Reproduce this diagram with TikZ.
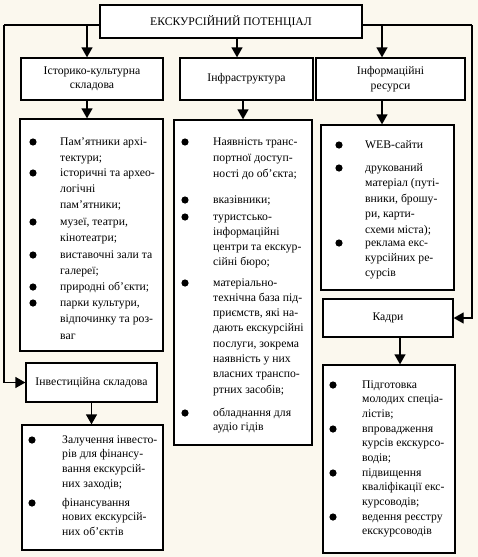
\documentclass[tikz,border=0pt]{standalone}
\usepackage{fontspec}
\setmainfont{Liberation Serif}
\usetikzlibrary{arrows.meta,calc}
\definecolor{bg}{RGB}{251,248,238}
\tikzset{
  box/.style={draw, fill=white, line width=1.3pt, inner sep=0pt, align=center,
    font=\fontsize{11.7}{14.5}\selectfont},
  lbox/.style={draw, fill=white, line width=1.3pt, inner sep=0pt},
  arr/.style={line width=1.3pt, -{Triangle[length=10pt,width=11pt]}},
  ln/.style={line width=1.3pt},
  bul/.style={circle, fill, inner sep=0pt, minimum size=7.2pt},
  itx/.style={anchor=north west, inner sep=0pt, align=left,
    font=\fontsize{11.7}{#1}\selectfont},
}
\newcommand\itm[6]{%
  \node[bul] (#1b) at (#2,#4) {};
  \node[itx=#5] (#1) at ({#3},{#4+2.8-0.7*#5}) {\strut #6};}
\begin{document}
\begin{tikzpicture}[x=1pt,y=-1pt]
\fill[bg] (0,0) rectangle (478,557);
\useasboundingbox (0,0) rectangle (478,557);

% header boxes
\node[box, minimum width=262pt, minimum height=33pt] (top) at (231,21.5) {ЕКСКУРСІЙНИЙ ПОТЕНЦІАЛ};
\node[box, minimum width=142pt, minimum height=42pt] (hist) at (92,79) {Історико-культурна\\складова};
\node[box, minimum width=133pt, minimum height=42pt] (infra) at (246.5,79) {Інфраструктура};
\node[box, minimum width=149pt, minimum height=42pt] (info) at (390.5,79) {Інформаційні\\ресурси};
\node[box, minimum width=130pt, minimum height=38pt] (kadry) at (388,318) {Кадри};
\node[box, minimum width=131pt, minimum height=39pt] (inv) at (91.5,382.5) {Інвестиційна складова};

% list boxes
\node[lbox, minimum width=143pt, minimum height=232pt] (lh) at (91.5,235) {};
\node[lbox, minimum width=138pt, minimum height=325pt] (lm) at (243,282.5) {};
\node[lbox, minimum width=133pt, minimum height=165pt] (lr) at (387.5,207.5) {};
\node[lbox, minimum width=132pt, minimum height=188pt] (lk) at (389,459) {};
\node[lbox, minimum width=141pt, minimum height=125pt] (lb) at (92.5,487.5) {};

% connectors
\coordinate (tl) at (4,25);
\coordinate (tr) at (472,25);
\coordinate (xa) at (87,0);
\coordinate (xm) at (237,0);
\coordinate (xm2) at (243,0);
\coordinate (xr) at (382,0);
\coordinate (xk) at (400,0);
\draw[ln] (top.west |- tl) -- (tl);
\draw[arr] (tl) -- (tl |- inv.west) -- (inv.west);
\draw[ln] (top.east |- tr) -- (tr);
\draw[arr] (tr) -- (tr |- kadry.east) -- (kadry.east);
\draw[arr] (xa |- tl) -- (xa |- hist.north);
\draw[arr] (xm |- top.south) -- (xm |- infra.north);
\draw[arr] (xr |- tr) -- (xr |- info.north);
\draw[arr] (xa |- hist.south) -- (xa |- lh.north);
\draw[arr] (xm2 |- infra.south) -- (xm2 |- lm.north);
\draw[arr] (xr |- info.south) -- (xr |- lr.north);
\draw[arr] (xk |- kadry.south) -- (xk |- lk.north);
\draw[arr] (inv.south) -- (inv.south |- lb.north);

% left list
\itm{h1}{33}{60}{142}{16}{Пам’ятники архі-\\тектури;}
\itm{h2}{33}{60}{173}{16}{історичні та архео-\\логічні\\пам’ятники;}
\itm{h3}{33}{60}{222}{16}{музеї, театри,\\кінотеатри;}
\itm{h4}{33}{60}{255}{16}{виставочні зали та\\галереї;}
\itm{h5}{33}{60}{287}{16}{природні об’єкти;}
\itm{h6}{33}{60}{303}{16.5}{парки культури,\\відпочинку та роз-\\ваг}

% middle list
\itm{m1}{185}{213}{142}{16}{Наявність транс-\\портної доступ-\\ності до об’єкта;}
\itm{m2}{185}{213}{200}{15}{вказівники;}
\itm{m3}{185}{213}{217}{15}{туристсько-\\інформаційні\\центри та екскур-\\сійні бюро;}
\itm{m4}{185}{213}{283}{15.3}{матеріально-\\технічна база під-\\приємств, які на-\\дають екскурсійні\\послуги, зокрема\\наявність у них\\власних транспо-\\ртних засобів;}
\itm{m5}{185}{213}{413}{14}{обладнання для\\аудіо гідів}

% right list
\itm{r1}{339}{365}{145}{15}{WEB-сайти}
\itm{r2}{339}{365}{168}{15.5}{друкований\\матеріал (путі-\\вники, брошу-\\ри, карти-\\схеми міста);}
\itm{r3}{339}{365}{243}{15}{реклама екс-\\курсійних ре-\\сурсів}

% bottom-right list
\itm{k1}{333}{362}{385}{14.5}{Підготовка\\молодих спеціа-\\лістів;}
\itm{k2}{333}{362}{429}{14.5}{впровадження\\курсів екскурсо-\\водів;}
\itm{k3}{333}{362}{473}{14.5}{підвищення\\кваліфікації екс-\\курсоводів;}
\itm{k4}{333}{362}{517}{14.5}{ведення реєстру\\екскурсоводів}

% bottom-left list
\itm{b1}{32}{62}{440}{14.7}{Залучення інвесто-\\рів для фінансу-\\вання екскурсій-\\них заходів;}
\itm{b2}{32}{62}{503}{14.7}{фінансування\\нових екскурсій-\\них об’єктів}
\end{tikzpicture}
\end{document}
